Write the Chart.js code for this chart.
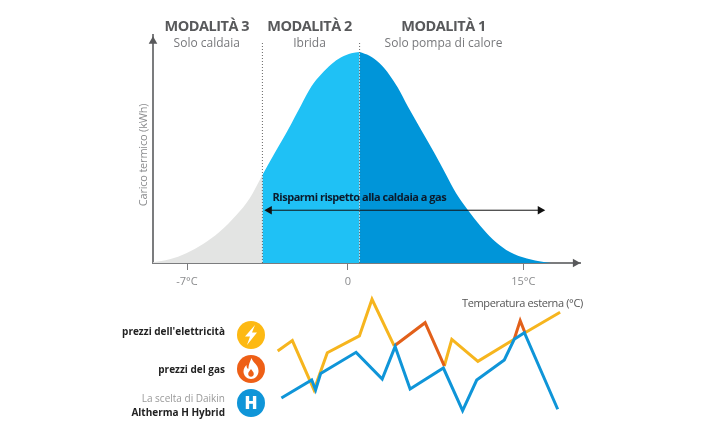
<!DOCTYPE html>
<html>
<head>
<meta charset="utf-8">
<title>Modalità</title>
<script src="https://cdn.jsdelivr.net/npm/chart.js@4/dist/chart.umd.min.js"></script>
<style>
    html, body { margin: 0; padding: 0; background: #fff; }
    body { width: 720px; height: 430px; position: relative; overflow: hidden; font-family: "Open Sans", sans-serif; }
    canvas { position: absolute; left: 0; }
    #curve { top: 0; }
    #prices { top: 295px; }
    .lbl { position: absolute; right: 495px; white-space: nowrap; font-size: 10px; line-height: 12px; font-weight: 700; color: #222; }
    .lbl.thin { font-weight: 400; color: #999; }
    .ico { position: absolute; left: 237px; width: 28px; height: 28px; }
    #temp { position: absolute; left: 462px; top: 295px; font-size: 11px; line-height: 16px; color: #555; white-space: nowrap; letter-spacing: -0.38px; }
</style>
</head>
<body>
<canvas id="curve" width="720" height="300"></canvas>
<canvas id="prices" width="720" height="135"></canvas>

<div class="lbl" style="top:325px">prezzi dell'elettricità</div>
<div class="lbl" style="top:363px">prezzi del gas</div>
<div class="lbl thin" style="top:392px">La scelta di Daikin</div>
<div class="lbl" style="top:406px">Altherma H Hybrid</div>
<div id="temp">Temperatura esterna (°C)</div>

<svg class="ico" style="top:321px" viewBox="0 0 28 28">
    <circle cx="14" cy="14" r="14" fill="#fdb913"/>
    <path d="M18 4 8 15.500h5L10 24l10-12.500h-5z" fill="#fff"/>
</svg>
<svg class="ico" style="top:355px" viewBox="0 0 28 28">
    <circle cx="14" cy="14" r="14" fill="#ee5f16"/>
    <path d="M14.500 3c1 4.500 7 6.500 7 13 0 4.500-3.400 8-7.500 8s-7.500-3.500-7.500-7.500c0-3 1.500-5 3-6.500 0 2.500.8 3.500 1.800 4C11.500 10 13 6.500 14.500 3zM14 14c-1.200 1.800-2.800 2.900-2.800 5 0 1.600 1.300 2.800 2.800 2.800s2.800-1.200 2.800-2.800c0-2.100-1.600-3.200-2.800-5z" fill="#fff" fill-rule="evenodd"/>
</svg>
<svg class="ico" style="top:389px" viewBox="0 0 28 28">
    <circle cx="14" cy="14" r="14" fill="#0f95d8"/>
    <text x="14" y="20" text-anchor="middle" font-family="Open Sans" font-weight="800" font-size="17" fill="#fff">H</text>
</svg>

<script>
// load curve, x in degrees along the drawn axis (the picture's axis is not linear past 0)
const boilerTemp = [-8.48, -7.75, -7.03, -6.30, -5.58, -4.85, -4.27, -3.72];
const boilerLoad = [0.3, 1.75, 4.6, 9.0, 14.8, 22.7, 30.7, 41.7];
const hybridTemp = [-3.72, -3.19, -2.61, -2.03, -1.59, -1.16, -0.72, -0.29, 0.15, 0.51];
const hybridLoad = [41.7, 52, 63, 74.9, 83.6, 89.4, 94.2, 97.5, 99.4, 100];
const pumpTemp = [0.51, 0.94, 1.38, 1.81, 2.17, 2.61, 3.19, 3.77, 4.28, 4.71, 5.22, 5.73, 6.30, 6.89, 7.61, 8.33, 8.84];
const pumpLoad = [100, 98.2, 94.6, 89.1, 83.1, 74.1, 63, 52, 41.7, 33, 25.1, 18, 11.2, 6.2, 2.7, 0.8, 0];

const tickValues = [-7, 0, 7.63];
const tickLabels = ['-7°C', '0', '15°C'];
const modeTitles = ['MODALITÀ 3', 'MODALITÀ 2', 'MODALITÀ 1'];
const modeSubtitles = ['Solo caldaia', 'Ibrida', 'Solo pompa di calore'];
const savingsLabel = 'Risparmi rispetto alla caldaia a gas';
const yTitle = 'Carico termico (kWh)';

// price lines, null = gap where the other series takes over
const elecX = [2.56, 7.45, 14.67, 19.1, 29.8, 34.0, 41.4, 50, 58.1, 60.6, 69.3, 81.4, 83, 85.0, 96.7];
const elecY = [56.9, 64.9, 27.0, 55.6, 68.5, 96.7, 60.8, null, 45.4, 65.9, 49.0, 65.9, null, 71.0, 86.7];
const gasX = [41.4, 51.7, 58.1, 70, 81.4, 83.4, 85.0];
const gasY = [60.8, 78.7, 45.4, null, 65.9, 80.3, 71.0];
const hybridX = [3.8, 13.9, 15.2, 16.9, 28.7, 37.4, 41.7, 46.7, 57.8, 64.2, 68.9, 78.1, 81.4, 84.8, 95.9];
const hybridY = [20.8, 34.6, 27, 39.7, 55.9, 35.4, 60.3, 27.7, 43.8, 11, 34.6, 50, 65.9, 71, 12.1];

function zip(xs, ys) {
    return xs.map((x, i) => ({ x: x, y: ys[i] }));
}

function region(xs, ys, color) {
    return {
        data: zip(xs, ys),
        backgroundColor: color,
        borderWidth: 0,
        fill: 'origin',
        pointRadius: 0,
        cubicInterpolationMode: 'monotone'
    };
}

function guide(x, top) {
    return {
        data: [{ x: x, y: 0 }, { x: x, y: top }],
        borderColor: '#666',
        borderWidth: 1,
        borderDash: [1, 2],
        pointRadius: 0
    };
}

function arrow(points, rotation, color, radius, width) {
    return {
        data: points,
        borderColor: color,
        borderWidth: width,
        pointStyle: 'triangle',
        pointRadius: radius,
        pointRotation: rotation,
        pointBackgroundColor: color,
        pointBorderWidth: 0,
        clip: false
    };
}

// Texts that hang on the scales of the curve chart
const curveTexts = {
    id: 'curveTexts',
    afterDraw(chart) {
        const c = chart.ctx, sx = chart.scales.x, sy = chart.scales.y;
        const centers = [-6.14, -1.67, 4.16];
        c.save();
        c.textAlign = 'center';
        c.textBaseline = 'middle';
        modeTitles.forEach((t, i) => {
            c.font = '700 14.500px "Open Sans"';
            c.letterSpacing = '-0.5px';
            c.fillStyle = '#58595b';
            c.fillText(t, sx.getPixelForValue(centers[i]), sy.getPixelForValue(112));
            c.font = '400 12px "Open Sans"';
            c.letterSpacing = '0px';
            c.fillStyle = '#77787b';
            c.fillText(modeSubtitles[i], sx.getPixelForValue(centers[i]), sy.getPixelForValue(104));
        });
        c.font = '700 11px "Open Sans"';
        c.letterSpacing = '-0.48px';
        c.fillStyle = '#0b1a2b';
        c.fillText(savingsLabel, sx.getPixelForValue(0.5), sy.getPixelForValue(30.800));
        c.translate(144, 155);
        c.rotate(-Math.PI / 2);
        c.font = '400 11px "Open Sans"';
        c.letterSpacing = '-0.2px';
        c.fillStyle = '#8a8b8d';
        c.fillText(yTitle, 0, 0);
        c.restore();
    }
};

new Chart(document.getElementById('curve'), {
    type: 'line',
    data: {
        datasets: [
            arrow([{ x: -3.42, y: 25 }, { x: 8.37, y: 25 }], [-90, 90], '#111', 5, 1),
            arrow([{ x: 9.9, y: 0 }], [90], '#58595b', 5, 0),
            arrow([{ x: -8.48, y: 105 }], [0], '#58595b', 5, 0),
            guide(-3.72, 104.4),
            guide(0.51, 104.4),
            region(pumpTemp, pumpLoad, '#0095d9'),
            region(hybridTemp, hybridLoad, '#1fc1f5'),
            region(boilerTemp, boilerLoad, '#e3e4e3')
        ]
    },
    options: {
        responsive: false,
        animation: false,
        layout: { padding: { top: 35, right: 140 } },
        plugins: { legend: { display: false }, tooltip: { enabled: false } },
        scales: {
            x: {
                type: 'linear',
                min: -8.48,
                max: 10.1,
                afterFit(s) { s.height = 37; },
                afterBuildTicks(s) { s.ticks = tickValues.map(v => ({ value: v })); },
                border: { color: '#7b7c7e', width: 2 },
                grid: { drawOnChartArea: false, tickLength: 7, tickColor: '#7b7c7e' },
                ticks: {
                    color: '#8a8b8d',
                    font: { family: 'Open Sans', size: 11 },
                    padding: 5,
                    maxRotation: 0,
                    autoSkip: false,
                    callback: (v) => tickLabels[tickValues.indexOf(v)]
                }
            },
            y: {
                type: 'linear',
                min: 0,
                max: 108,
                afterFit(s) { s.width = 153; },
                border: { color: '#7b7c7e', width: 2 },
                grid: { drawOnChartArea: false, drawTicks: false },
                ticks: { display: false }
            }
        }
    },
    plugins: [curveTexts]
});

function priceLine(xs, ys, color) {
    return {
        data: zip(xs, ys),
        borderColor: color,
        borderWidth: 3,
        borderJoinStyle: 'miter',
        pointRadius: 0,
        spanGaps: false
    };
}

new Chart(document.getElementById('prices'), {
    type: 'line',
    data: {
        datasets: [
            priceLine(hybridX, hybridY, '#0f95d8'),
            priceLine(gasX, gasY, '#e2601a'),
            priceLine(elecX, elecY, '#f6b51e')
        ]
    },
    options: {
        responsive: false,
        animation: false,
        layout: { padding: { left: 270, right: 150, top: 0, bottom: 5 } },
        plugins: { legend: { display: false }, tooltip: { enabled: false } },
        scales: {
            x: { type: 'linear', display: false, min: 0, max: 100 },
            y: { type: 'linear', display: false, min: 0, max: 100 }
        }
    }
});
</script>
</body>
</html>
